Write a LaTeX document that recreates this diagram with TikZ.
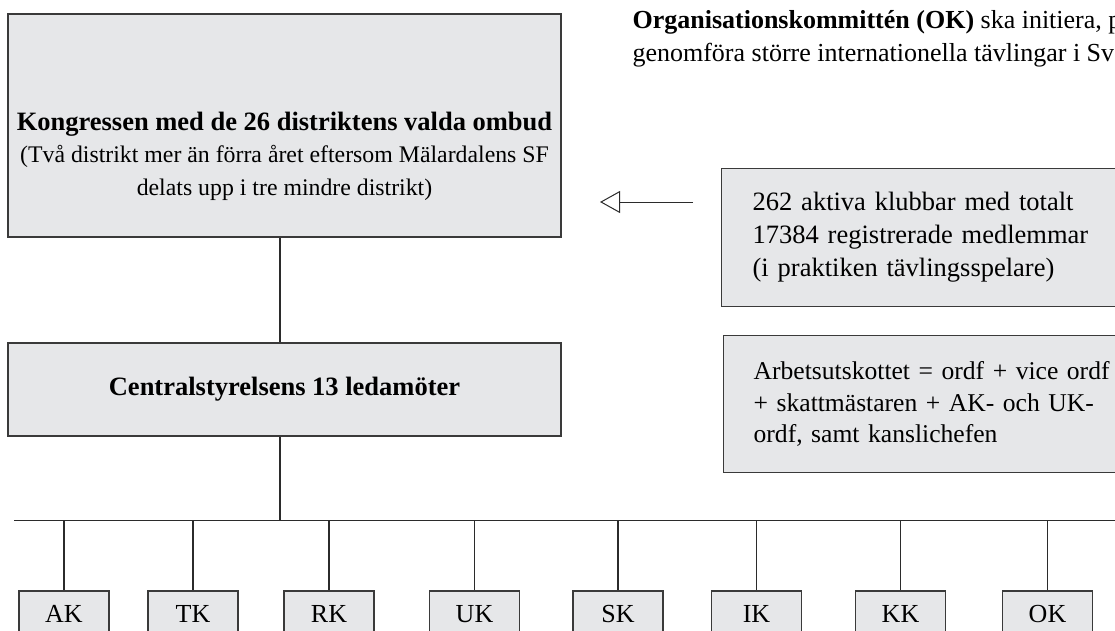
\documentclass[tikz,border=0pt]{standalone}
\usepackage{fontspec}
\setmainfont{Liberation Serif}
\usetikzlibrary{arrows.meta}
\definecolor{boxgray}{HTML}{E6E7E9}
\definecolor{boxline}{HTML}{3A3A3A}
\definecolor{linecol}{HTML}{2B2B2B}
\begin{document}
\begin{tikzpicture}[x=1pt,y=-1pt,line cap=butt,line join=miter]
				\tikzset{box/.style={draw=boxline,fill=boxgray,line width=1.3pt,inner sep=0pt},
						kbox/.style={box,txt,minimum width=90pt,minimum height=46pt},
						link/.style={draw=linecol,line width=1.3pt},
						txt/.style={font=\fontsize{26}{32.5}\selectfont,text=black}
				}
				\useasboundingbox (0,0) rectangle (1115,631);
				\clip (0,0) rectangle (1115,631);
				\node[box,minimum width=553pt,minimum height=223pt] (kongress) at (284.5,125.5) {};
				\node[txt,align=center] (kongresstext) at (284.5,156) {{\fontsize{26.5}{33}\selectfont\bfseries Kongressen med de 26 distriktens valda ombud}\\{\fontsize{23.8}{31}\selectfont (Två distrikt mer än förra året eftersom Mälardalens SF}\\{\fontsize{23.8}{31}\selectfont delats upp i tre mindre distrikt)}};
				\node[box,txt,minimum width=553pt,minimum height=93pt,font=\fontsize{26.5}{32}\selectfont\bfseries] (central) at (284.5,389.5) {Centralstyrelsens 13 ledamöter};
				\node[txt,anchor=west,align=left,font=\fontsize{26}{33}\selectfont] (oktext) at (629,38.5) {\textbf{Organisationskommittén (OK)} ska initiera, p\\genomföra större internationella tävlingar i Sv};
				\node[box,txt,anchor=north west,minimum width=462pt,minimum height=138pt,inner xsep=31pt,text width=400pt,align=left,font=\fontsize{26.5}{33}\selectfont] (klubbar) at (721,168) {262 aktiva klubbar med totalt\\17384 registrerade medlemmar\\(i praktiken tävlingsspelare)};
				\node[box,txt,anchor=north west,minimum width=462pt,minimum height=137pt,inner xsep=30pt,text width=402pt,align=left,font=\fontsize{25.6}{31.5}\selectfont] (au) at (723,335) {Arbetsutskottet = ordf + vice ordf\\+ skattmästaren + AK- och UK-\\ordf, samt kanslichefen};
				\node[kbox] (ak) at (64,614) {AK}; \node[kbox] (tk) at (193,614) {TK}; \node[kbox] (rk) at (329,614) {RK}; \node[kbox] (uk) at (474.5,614) {UK};
				\node[kbox] (sk) at (618,614) {SK}; \node[kbox] (ik) at (756.5,614) {IK}; \node[kbox] (kk) at (900.5,614) {KK}; \node[kbox] (ok) at (1047.5,614) {OK};
				\coordinate (busL) at (14,520.5); \coordinate (busR) at (1125,520.5);
				\coordinate (pilstart) at (693,202); \coordinate (pilspets) at (600,202);
				\draw[link] ([xshift=-4.5pt]kongress.south) -- ([xshift=-4.5pt]central.north);
				\draw[link] ([xshift=-4.5pt]central.south) -- ([xshift=-4.5pt]central.south |- busL);
				\draw[link] (busL) -- (busR);
				\draw[link] (ak.north |- busL) -- (ak.north) (tk.north |- busL) -- (tk.north) (rk.north |- busL) -- (rk.north) (uk.north |- busL) -- (uk.north)
				(sk.north |- busL) -- (sk.north) (ik.north |- busL) -- (ik.north) (kk.north |- busL) -- (kk.north) (ok.north |- busL) -- (ok.north);
				\draw[link,line width=1pt,-{Triangle[open,length=20pt,width=22pt]}] (pilstart) -- (pilspets);
			\end{tikzpicture}
\end{document}
